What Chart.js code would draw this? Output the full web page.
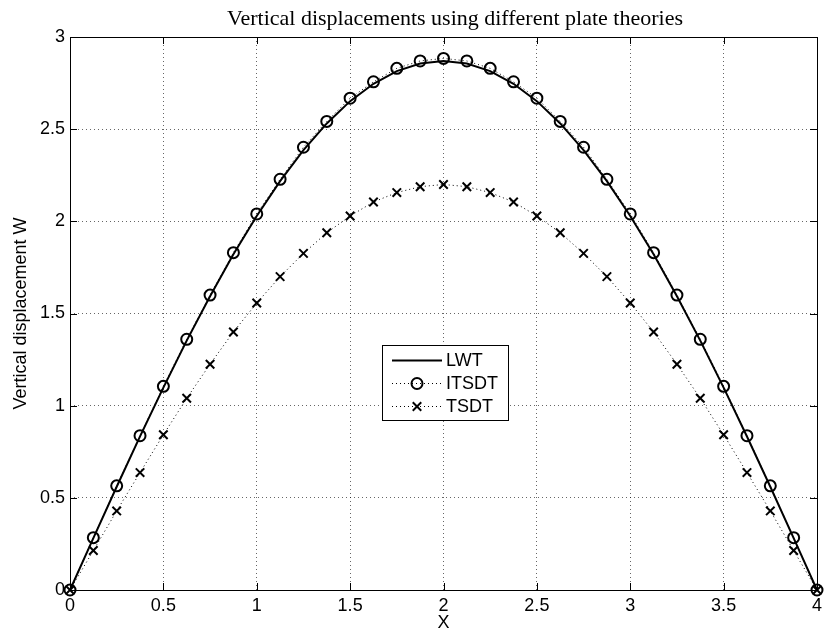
<!DOCTYPE html>
<html>
<head>
<meta charset="utf-8">
<script src="https://cdn.jsdelivr.net/npm/chart.js@4.4.0/dist/chart.umd.min.js"></script>
<style>
  html, body { margin: 0; padding: 0; background: #fff; }
  #wrap { width: 825px; height: 634px; }
</style>
</head>
<body>
<div id="wrap"><canvas id="plateChart" width="825" height="634"></canvas></div>
<script>
const chartTitle = "Vertical displacements using different plate theories"
const xTitle = "X"
const yTitle = "Vertical displacement W"
const seriesNames = ["LWT", "ITSDT", "TSDT"]

const xValues = [
  0, 0.125, 0.25, 0.375, 0.5, 0.625, 0.75, 0.875, 1, 1.125, 1.25, 1.375, 1.5, 1.625, 1.75, 1.875,
  2, 2.125, 2.25, 2.375, 2.5, 2.625, 2.75, 2.875, 3, 3.125, 3.25, 3.375, 3.5, 3.625, 3.75, 3.875, 4,
]
const lwtValues = [
  0, 0.281, 0.56, 0.833, 1.098, 1.353, 1.594, 1.821, 2.029, 2.218, 2.386, 2.531, 2.652, 2.746, 2.815, 2.856,
  2.87, 2.856, 2.815, 2.746, 2.652, 2.531, 2.386, 2.218, 2.029, 1.821, 1.594, 1.353, 1.098, 0.833, 0.56, 0.281, 0,
]
const itsdtValues = [
  0, 0.284, 0.565, 0.837, 1.105, 1.36, 1.6, 1.83, 2.04, 2.228, 2.402, 2.542, 2.668, 2.757, 2.83, 2.87,
  2.884, 2.87, 2.83, 2.757, 2.668, 2.542, 2.402, 2.228, 2.04, 1.83, 1.6, 1.36, 1.105, 0.837, 0.565, 0.284, 0,
]
const tsdtValues = [
  0, 0.214, 0.429, 0.637, 0.842, 1.04, 1.225, 1.4, 1.557, 1.7, 1.826, 1.938, 2.029, 2.105, 2.156, 2.188,
  2.2, 2.188, 2.156, 2.105, 2.029, 1.938, 1.826, 1.7, 1.557, 1.4, 1.225, 1.04, 0.842, 0.637, 0.429, 0.214, 0,
]
const xTicks = [0, 0.5, 1, 1.5, 2, 2.5, 3, 3.5, 4]
const yTicks = [0, 0.5, 1, 1.5, 2, 2.5, 3]

const sansFont = "'Liberation Sans', Arial, Helvetica, sans-serif"
const serifFont = "'Liberation Serif', 'Times New Roman', serif"

function toPoints(values) {
  return xValues.map((x, i) => ({ x: x, y: values[i] }))
}

// title drawn by hand so the plot area top stays fixed
const titlePlugin = {
  id: "plotTitle",
  afterDraw(chart) {
    const ctx = chart.ctx
    ctx.save()
    ctx.fillStyle = "#000"
    ctx.font = "22px " + serifFont
    ctx.textAlign = "center"
    ctx.textBaseline = "alphabetic"
    ctx.fillText(chartTitle, 455, 25)
    ctx.restore()
  },
}

// matlab style box with inward ticks on all four sides
const boxPlugin = {
  id: "matlabBox",
  afterDatasetsDraw(chart) {
    const ctx = chart.ctx
    const area = chart.chartArea
    const xs = chart.scales.x
    const ys = chart.scales.y
    const len = 7
    ctx.save()
    ctx.strokeStyle = "#000"
    ctx.lineWidth = 1
    ctx.beginPath()
    xTicks.forEach((v) => {
      const px = Math.round(xs.getPixelForValue(v)) + 0.5
      ctx.moveTo(px, area.bottom)
      ctx.lineTo(px, area.bottom - len)
      ctx.moveTo(px, area.top)
      ctx.lineTo(px, area.top + len)
    })
    yTicks.forEach((v) => {
      const py = Math.round(ys.getPixelForValue(v)) + 0.5
      ctx.moveTo(area.left, py)
      ctx.lineTo(area.left + len, py)
      ctx.moveTo(area.right, py)
      ctx.lineTo(area.right - len, py)
    })
    ctx.stroke()
    ctx.strokeRect(
      Math.round(area.left) + 0.5,
      Math.round(area.top) + 0.5,
      Math.round(area.right - area.left),
      Math.round(area.bottom - area.top)
    )
    ctx.restore()
  },
}

// legend with line sample and marker in the middle
const legendPlugin = {
  id: "matlabLegend",
  afterDraw(chart) {
    const ctx = chart.ctx
    const box = { left: 382.5, top: 345.5, width: 126, height: 75 }
    const rows = [360, 383, 406]
    ctx.save()
    ctx.fillStyle = "#fff"
    ctx.fillRect(box.left, box.top, box.width, box.height)
    ctx.strokeStyle = "#000"
    ctx.lineWidth = 1
    ctx.strokeRect(box.left, box.top, box.width, box.height)
    chart.data.datasets.forEach((ds, i) => {
      const y = rows[i]
      ctx.save()
      ctx.strokeStyle = "#000"
      ctx.lineWidth = ds.borderWidth
      ctx.setLineDash(ds.borderDash || [])
      ctx.beginPath()
      ctx.moveTo(392, y + 0.5)
      ctx.lineTo(442, y + 0.5)
      ctx.stroke()
      ctx.restore()
      if (ds.pointRadius > 0) {
        ctx.save()
        ctx.fillStyle = "rgba(0,0,0,0)"
        ctx.strokeStyle = "#000"
        ctx.lineWidth = ds.pointBorderWidth
        Chart.helpers.drawPoint(
          ctx,
          {
            pointStyle: ds.pointStyle,
            radius: ds.pointRadius,
            rotation: 0,
            borderWidth: ds.pointBorderWidth,
          },
          417,
          y + 0.5
        )
        ctx.restore()
      }
      ctx.fillStyle = "#000"
      ctx.font = "18px " + sansFont
      ctx.textAlign = "left"
      ctx.textBaseline = "middle"
      ctx.fillText(ds.label, 446, y + 1)
    })
    ctx.restore()
  },
}

const canvas = document.getElementById("plateChart")

new Chart(canvas, {
  type: "line",
  data: {
    datasets: [
      {
        label: seriesNames[0],
        data: toPoints(lwtValues),
        borderColor: "#000",
        borderWidth: 2,
        pointRadius: 0,
        tension: 0,
        clip: false,
      },
      {
        label: seriesNames[1],
        data: toPoints(itsdtValues),
        borderColor: "#000",
        borderWidth: 1,
        borderDash: [1, 3],
        pointStyle: "circle",
        pointRadius: 5.5,
        pointBorderWidth: 2,
        pointBorderColor: "#000",
        pointBackgroundColor: "rgba(0,0,0,0)",
        tension: 0,
        clip: false,
      },
      {
        label: seriesNames[2],
        data: toPoints(tsdtValues),
        borderColor: "#000",
        borderWidth: 1,
        borderDash: [1, 3],
        pointStyle: "crossRot",
        pointRadius: 6,
        pointBorderWidth: 2,
        pointBorderColor: "#000",
        tension: 0,
        clip: false,
      },
    ],
  },
  options: {
    responsive: false,
    animation: false,
    events: [],
    layout: { padding: { left: 0, right: 5, top: 37, bottom: 0 } },
    plugins: {
      legend: { display: false },
      title: { display: false },
      tooltip: { enabled: false },
    },
    scales: {
      x: {
        type: "linear",
        min: 0,
        max: 4,
        afterBuildTicks: (scale) => {
          scale.ticks = xTicks.map((v) => ({ value: v }))
        },
        afterFit: (scale) => {
          scale.height = 44
          scale.paddingRight = 0
        },
        ticks: {
          color: "#000",
          padding: 5,
          maxRotation: 0,
          callback: (v) => String(v),
          font: { family: sansFont, size: 18, lineHeight: 1.2 },
        },
        grid: { color: "rgba(0,0,0,0.6)", lineWidth: 1, drawTicks: false },
        border: { display: false, dash: [1, 3] },
        title: {
          display: true,
          text: xTitle,
          color: "#000",
          padding: { top: 0, bottom: 0 },
          font: { family: sansFont, size: 18, lineHeight: 1.2 },
        },
      },
      y: {
        type: "linear",
        min: 0,
        max: 3,
        afterBuildTicks: (scale) => {
          scale.ticks = yTicks.map((v) => ({ value: v }))
        },
        afterFit: (scale) => {
          scale.width = 70
        },
        ticks: {
          color: "#000",
          padding: 5,
          callback: (v) => String(v),
          font: { family: sansFont, size: 18, lineHeight: 1.2 },
        },
        grid: { color: "rgba(0,0,0,0.6)", lineWidth: 1, drawTicks: false },
        border: { display: false, dash: [1, 3] },
        title: {
          display: true,
          text: yTitle,
          color: "#000",
          padding: { top: 10, bottom: 0 },
          font: { family: sansFont, size: 18, lineHeight: 1.2 },
        },
      },
    },
  },
  plugins: [titlePlugin, boxPlugin, legendPlugin],
})
</script>
</body>
</html>
